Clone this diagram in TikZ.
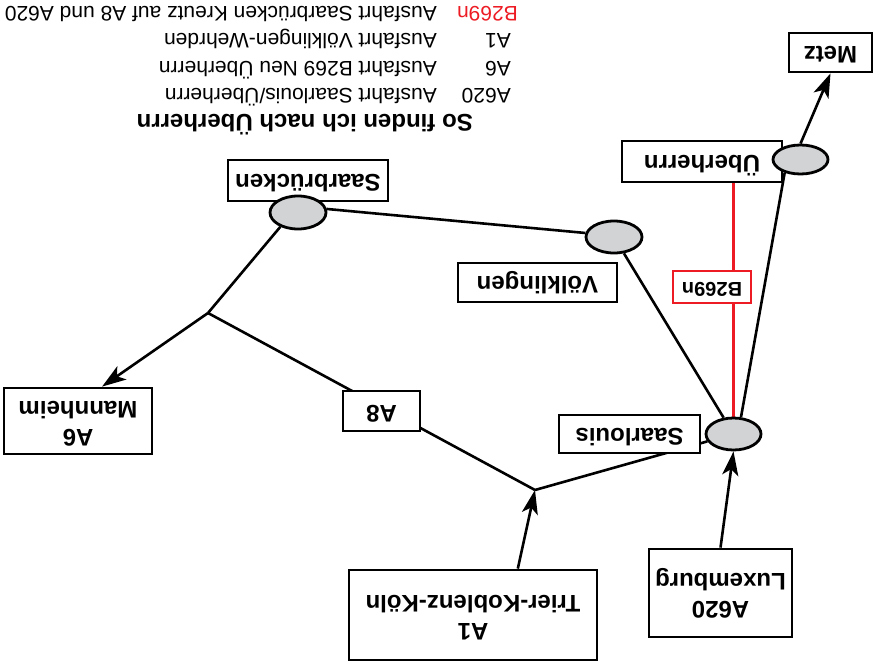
\documentclass[tikz,border=0pt]{standalone}
\usepackage{fontspec}
\setmainfont{Liberation Sans}
\usepackage{graphicx}
\usetikzlibrary{shapes.geometric,arrows.meta}
\definecolor{ellgray}{HTML}{D1D3D4}
\definecolor{mapred}{HTML}{ED1C24}
\pgfdeclarelayer{bg}
\pgfsetlayers{bg,main}
\tikzset{
 box/.style={draw=black, line width=2.8pt, fill=white, inner sep=0pt, font=\fontsize{24}{28}\selectfont\bfseries},
 ell/.style={ellipse, draw=black, line width=2.8pt, fill=ellgray, inner sep=0pt},
 road/.style={line width=2.6pt, draw=black},
 arr/.style={road, -{Stealth[length=24pt,width=16pt,inset=6pt]}},
 legend/.style={rotate=180, anchor=base west, inner sep=0pt, font=\fontsize{21}{25}\selectfont},
}
\newcommand{\upside}[1]{\rotatebox{180}{\begin{tabular}{@{}c@{}}#1\end{tabular}}}
\begin{document}
\begin{tikzpicture}[x=1pt,y=-1pt]
\useasboundingbox (0,0) rectangle (874,669);
% boxes
\node[box, minimum width=83pt, minimum height=39pt] (metz) at (830.5,52.5) {\upside{Metz}};
\node[box, minimum width=160pt, minimum height=41pt] (ubox) at (702,161.5) {\upside{Überherrn}};
\node[box, minimum width=160pt, minimum height=41pt] (sbbox) at (308,180.5) {\upside{Saarbrücken}};
\node[box, minimum width=159pt, minimum height=39pt] (vbox) at (537.5,282.5) {\upside{Völklingen}};
\node[box, minimum width=141pt, minimum height=38pt] (slbox) at (629.5,434) {\upside{Saarlouis}};
\node[box, minimum width=77pt, minimum height=40pt] (a8) at (381.5,411) {\upside{A8}};
\node[box, minimum width=148pt, minimum height=66pt] (mbox) at (78,421) {\upside{A6\\Mannheim}};
\node[box, minimum width=248pt, minimum height=90pt] (a1) at (473,615) {\upside{A1\\Trier-Koblenz-Köln}};
\node[box, minimum width=143pt, minimum height=88pt] (lux) at (720.5,593) {\upside{A620\\Luxemburg}};
\node[box, draw=mapred, line width=2.4pt, minimum width=78pt, minimum height=32pt, font=\fontsize{20}{24}\selectfont\bfseries] (b269) at (712,287) {\upside{B269n}};
% ellipses
\node[ell, minimum width=55pt, minimum height=29pt] (uell) at (800.5,159.5) {};
\node[ell, minimum width=55pt, minimum height=32pt] (sell) at (733.5,434) {};
\node[ell, minimum width=56pt, minimum height=32pt] (vell) at (614,237) {};
\node[ell, minimum width=56pt, minimum height=33pt] (sbell) at (298,212.5) {};
% junctions
\coordinate (j1) at (535,490);
\coordinate (j2) at (208,313);
% connectors
\begin{pgfonlayer}{bg}
\draw[line width=2.2pt, draw=mapred] (sell.north) -- (sell.north |- ubox.south);
\draw[arr] (uell.north) -- (metz.south);
\draw[road] (uell.220) -- (sell.66);
\draw[road] (vell) -- (sell);
\draw[road] (sbell.7) -- (vell.172);
\draw[road] (j2) -- (sbell.219);
\draw[arr] (j2) -- (mbox.55);
\draw[road] (j2) -- (j1);
\draw[road] (j1) -- (sell);
\draw[arr] (a1.46) -- (j1);
\draw[arr] (lux.north) -- (sell.south);
\end{pgfonlayer}
% legend
\node[legend, text=mapred] (k1) at (518,7) {B269n};
\node[legend] (t1) at (437,7) {Ausfahrt Saarbrücken Kreutz auf A8 und A620};
\node[legend] (k2) at (511,34) {A1};
\node[legend] (t2) at (437,34) {Ausfahrt Völklingen-Wehrden};
\node[legend] (k3) at (511,61) {A6};
\node[legend] (t3) at (437,61) {Ausfahrt B269 Neu Überherrn};
\node[legend] (k4) at (511,88) {A620};
\node[legend] (t4) at (437,88) {Ausfahrt Saarlouis/Überherrn};
\node[legend, font=\fontsize{24}{28}\selectfont\bfseries] (title) at (473,114) {So finden ich nach Überherrn};
\end{tikzpicture}
\end{document}
